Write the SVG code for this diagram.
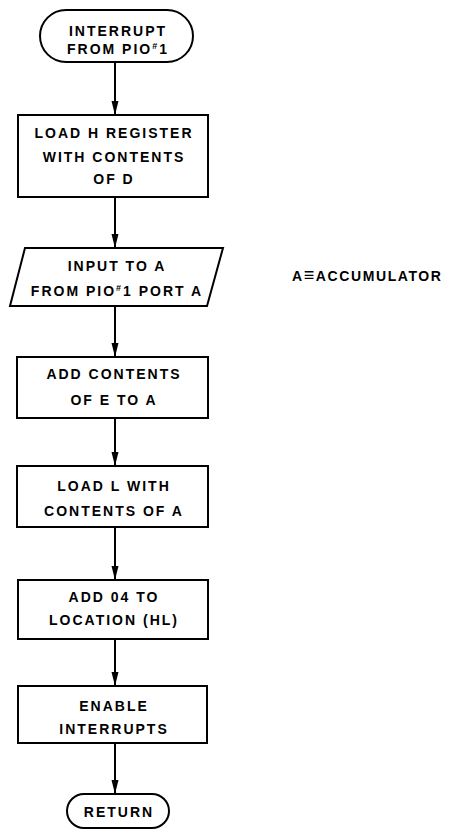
<svg xmlns="http://www.w3.org/2000/svg" width="451" height="830" viewBox="0 0 451 830">
<defs>
<style>
.shape{fill:#fff;stroke:#000;stroke-width:2}
.t{font-family:"Liberation Sans",Arial,sans-serif;font-weight:bold;font-size:14px;letter-spacing:2px;text-anchor:middle;fill:#000}
.note{font-family:"Liberation Sans",Arial,sans-serif;font-weight:bold;font-size:14px;letter-spacing:1.6px;fill:#000}
.sup{font-size:9px}
.line{stroke:#000;stroke-width:2;fill:none}
</style>
<marker id="ah" viewBox="0 0 14 8" refX="14" refY="4" markerWidth="14" markerHeight="8" markerUnits="userSpaceOnUse" orient="auto">
<path d="M0,0.5 L14,4 L0,7.5 z" fill="#000"/>
</marker>
</defs>
<g id="connectors">
<line class="line" x1="115" y1="62" x2="115" y2="115" marker-end="url(#ah)"/>
<line class="line" x1="115" y1="197" x2="115" y2="248" marker-end="url(#ah)"/>
<line class="line" x1="115" y1="306" x2="115" y2="357" marker-end="url(#ah)"/>
<line class="line" x1="115" y1="418" x2="115" y2="466" marker-end="url(#ah)"/>
<line class="line" x1="115" y1="527" x2="115" y2="580" marker-end="url(#ah)"/>
<line class="line" x1="115" y1="639" x2="115" y2="686" marker-end="url(#ah)"/>
<line class="line" x1="115" y1="743" x2="115" y2="794" marker-end="url(#ah)"/>
</g>
<g id="start">
<rect class="shape" x="40" y="10" width="153" height="52" rx="26" ry="26"/>
<text class="t" x="118" y="36">INTERRUPT</text>
<text class="t" x="118" y="54">FROM  PIO<tspan class="sup" dy="-5">#</tspan><tspan dy="5">1</tspan></text>
</g>
<g id="load-h">
<rect class="shape" x="18" y="115" width="190" height="82"/>
<text class="t" x="114" y="138">LOAD H REGISTER</text>
<text class="t" x="114" y="162">WITH CONTENTS</text>
<text class="t" x="114" y="184">OF D</text>
</g>
<g id="input">
<polygon class="shape" points="25,248 223,248 207,306 10,306"/>
<text class="t" x="117" y="271">INPUT TO A</text>
<text class="t" x="117" y="296">FROM PIO<tspan class="sup" dy="-5">#</tspan><tspan dy="5">1 PORT A</tspan></text>
</g>
<g id="note">
<text class="note" x="292" y="281">A<tspan font-size="18px">≡</tspan>ACCUMULATOR</text>
</g>
<g id="add-e">
<rect class="shape" x="17" y="357" width="191" height="61"/>
<text class="t" x="114" y="379">ADD CONTENTS</text>
<text class="t" x="114" y="405">OF E TO A</text>
</g>
<g id="load-l">
<rect class="shape" x="17" y="466" width="191" height="61"/>
<text class="t" x="114" y="491">LOAD L WITH</text>
<text class="t" x="114" y="516">CONTENTS OF A</text>
</g>
<g id="add-04">
<rect class="shape" x="18" y="580" width="190" height="59"/>
<text class="t" x="114" y="602">ADD 04 TO</text>
<text class="t" x="114" y="625">LOCATION (HL)</text>
</g>
<g id="enable">
<rect class="shape" x="18" y="686" width="189" height="57"/>
<text class="t" x="114" y="711">ENABLE</text>
<text class="t" x="114" y="734">INTERRUPTS</text>
</g>
<g id="return">
<rect class="shape" x="67" y="794" width="102" height="34" rx="17" ry="17"/>
<text class="t" x="119" y="817">RETURN</text>
</g>
</svg>
